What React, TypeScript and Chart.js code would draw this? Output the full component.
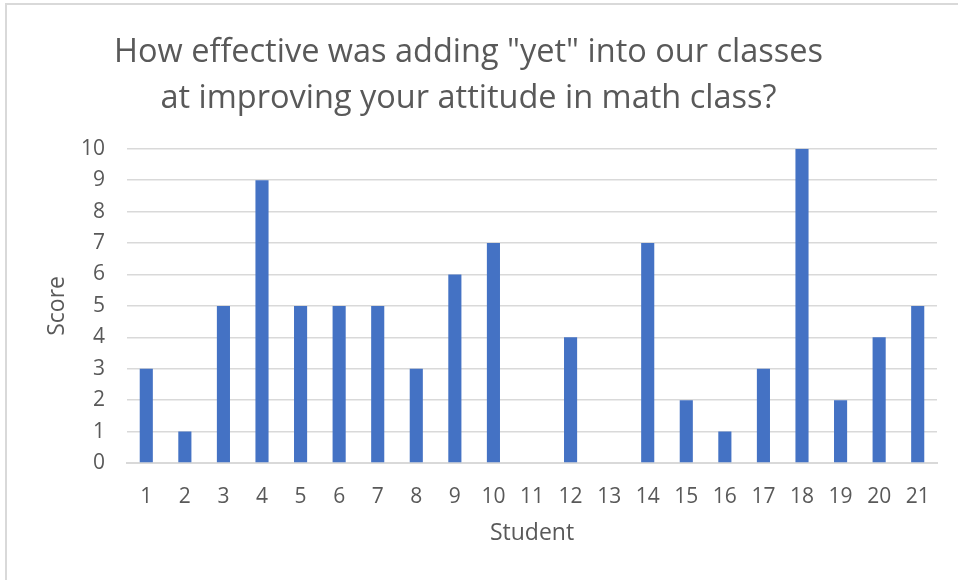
import React, { useEffect, useRef } from "react";
import { Chart, registerables } from "chart.js";

Chart.register(...registerables);

const titleLines = ['How effective was adding "yet" into our classes', "at improving your attitude in math class?"];
const students = ["1","2","3","4","5","6","7","8","9","10","11","12","13","14","15","16","17","18","19","20","21"];
const scores = [3, 1, 5, 9, 5, 5, 5, 3, 6, 7, 0, 4, 0, 7, 2, 1, 3, 10, 2, 4, 5];
const yTitle = "Score";
const xTitle = "Student";

const FONT = "'Open Sans', 'Noto Sans', sans-serif";
const GREY = "#595959";
const GRID = "#d9d9d9";

export default function App() {
  const ref = useRef<HTMLCanvasElement | null>(null);
  useEffect(() => {
    document.body.style.margin = "0";
    const chart = new Chart(ref.current!, {
      type: "bar",
      data: {
        labels: students,
        datasets: [{ data: scores, backgroundColor: "#4472C4", barPercentage: 0.34, categoryPercentage: 1 }],
      },
      options: {
        animation: false,
        responsive: false,
        layout: { padding: { left: 0, right: 21, top: 0, bottom: 0 } },
        plugins: {
          legend: { display: false },
          tooltip: { enabled: false },
          title: {
            display: true,
            text: titleLines,
            color: GREY,
            font: { family: FONT, size: 32.5, weight: "normal", lineHeight: 1.42 },
            padding: { top: 29.5, bottom: 27 },
          },
        },
        scales: {
          x: {
            grid: { display: false, drawTicks: false },
            border: { display: true, color: GRID, width: 2 },
            ticks: { color: GREY, font: { family: FONT, size: 21 }, padding: 21, maxRotation: 0, autoSkip: false },
            title: { display: true, text: xTitle, color: GREY, font: { family: FONT, size: 23 }, padding: { top: 0, bottom: 33 } },
            afterFit: (axis: any) => { axis.height = 117; },
          },
          y: {
            min: 0,
            max: 10,
            ticks: { stepSize: 1, color: GREY, font: { family: FONT, size: 21 }, padding: 22 },
            grid: { color: GRID, lineWidth: 1.5, drawTicks: false },
            border: { display: false },
            title: { display: true, text: yTitle, color: GREY, font: { family: FONT, size: 23 }, padding: { top: 44, bottom: 0 } },
            afterFit: (axis: any) => { axis.width = 127; },
          },
        },
      },
    });
    return () => chart.destroy();
  }, []);
  return (
    <div style={{ position: "relative", width: 958, height: 580, background: "#fff" }}>
      <canvas ref={ref} width={958} height={580} style={{ position: "absolute", left: 0, top: 0 }} />
      <div style={{ position: "absolute", left: 5, top: 3, right: 0, bottom: 0, borderLeft: `2px solid ${GRID}`, borderTop: `2px solid ${GRID}`, pointerEvents: "none" }} />
    </div>
  );
}
